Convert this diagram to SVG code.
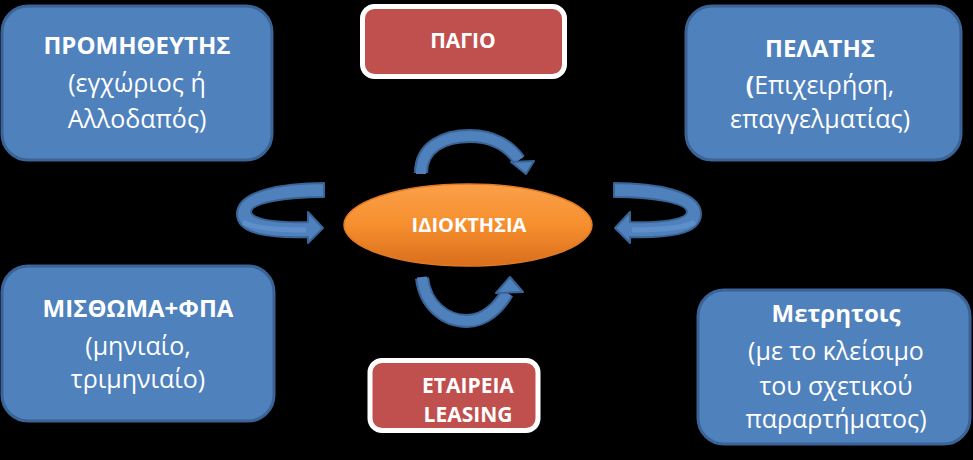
<svg xmlns="http://www.w3.org/2000/svg" width="973" height="460" viewBox="0 0 973 460">
<defs>
<linearGradient id="og" x1="0" y1="0" x2="0" y2="1">
<stop offset="0" stop-color="#FBA049"/>
<stop offset="0.5" stop-color="#F68F2E"/>
<stop offset="1" stop-color="#D96E1C"/>
</linearGradient>
<style>
.blue{fill:#4F81BD;stroke:#3A6396;stroke-width:3}
.red{fill:#C0504D;stroke:#FFFFFF;stroke-width:5}
.t{font-family:"Open Sans","Noto Sans","DejaVu Sans",sans-serif;fill:#FFFFFF;text-anchor:middle;font-size:25px}
.b{font-weight:bold;font-size:24px}
.s{font-weight:bold;font-size:21px}
.arr{fill:#4F81BD;stroke:#3A6396;stroke-width:2;stroke-linejoin:round}
.band{fill:none;stroke:#3A6396;stroke-width:14}
.bandi{fill:none;stroke:#4F81BD;stroke-width:10}
</style>
</defs>
<rect x="0" y="0" width="973" height="460" fill="#000000"/>

<g id="connectors">
<g id="arrow-left">
<path class="arr" d="M324,183 C285,183 237,190 237,214 C237,236 275,238 308,237 L308,243 L323,228 L308,212 L308,222 C278,223 252,220 251,212 C251,203 285,197 324,197 Z"/>
<path d="M243,222 C255,229 280,230 306,230" fill="none" stroke="#5F8FCB" stroke-width="5"/>
</g>
<g id="arrow-right" transform="translate(938,0) scale(-1,1)">
<path class="arr" d="M324,183 C285,183 237,190 237,214 C237,236 275,238 308,237 L308,243 L323,228 L308,212 L308,222 C278,223 252,220 251,212 C251,203 285,197 324,197 Z"/>
<path d="M243,222 C255,229 280,230 306,230" fill="none" stroke="#5F8FCB" stroke-width="5"/>
</g>
<g id="arrow-top">
<path class="band" d="M421,173 C421,146 445,136 470,136 C494,136 510,147 519,160"/>
<path class="bandi" d="M421,174 C421,146 445,136 470,136 C494,136 510,147 519,160"/>
<polygon class="arr" points="511,162 534,161 526,174"/>
</g>
<g id="arrow-bottom">
<path class="band" d="M422,278 C425,305 445,321 467,321 C485,321 499,307 507,293"/>
<path class="bandi" d="M422,277 C425,305 445,321 467,321 C485,321 499,307 507,293"/>
<polygon class="arr" points="496,293 523,292 510,277"/>
</g>
</g>

<g id="node-promitheftis">
<rect class="blue" x="2" y="6" width="270" height="154" rx="26"/>
<text class="t b" x="137" y="54">ΠΡΟΜΗΘΕΥΤΗΣ</text>
<text class="t" x="137" y="92">(εγχώριος ή</text>
<text class="t" x="137" y="128">Αλλοδαπός)</text>
</g>

<g id="node-pelatis">
<rect class="blue" x="686" y="6" width="275" height="154" rx="26"/>
<text class="t b" x="820" y="57">ΠΕΛΑΤΗΣ</text>
<text class="t" x="820" y="94"><tspan style="font-weight:bold">(</tspan>Επιχειρήση,</text>
<text class="t" x="820" y="128">επαγγελματίας)</text>
</g>

<g id="node-misthoma">
<rect class="blue" x="2" y="266" width="272" height="155" rx="26"/>
<text class="t b" x="138" y="317">ΜΙΣΘΩΜΑ+ΦΠΑ</text>
<text class="t" x="138" y="355">(μηνιαίο,</text>
<text class="t" x="138" y="388">τριμηνιαίο)</text>
</g>

<g id="node-metritois">
<rect class="blue" x="698" y="290" width="272" height="154" rx="26"/>
<text class="t b" x="836" y="322">Μετρητοις</text>
<text class="t" x="836" y="360">(με το κλείσιμο</text>
<text class="t" x="836" y="395">του σχετικού</text>
<text class="t" x="836" y="428">παραρτήματος)</text>
</g>

<g id="node-pagio">
<rect class="red" x="362.5" y="6.5" width="202" height="70" rx="12"/>
<text class="t s" x="463" y="48">ΠΑΓΙΟ</text>
</g>

<g id="node-idioktisia">
<ellipse cx="468" cy="225" rx="124" ry="41" fill="url(#og)" stroke="#E07A26" stroke-width="1.5"/>
<text class="t s" x="469" y="232" style="font-size:20px">ΙΔΙΟΚΤΗΣΙΑ</text>
</g>

<g id="node-leasing">
<rect class="red" x="370" y="360.5" width="168" height="70" rx="12"/>
<text class="t s" x="468" y="393">ΕΤΑΙΡΕΙΑ</text>
<text class="t s" x="468" y="422">LEASING</text>
</g>
</svg>
